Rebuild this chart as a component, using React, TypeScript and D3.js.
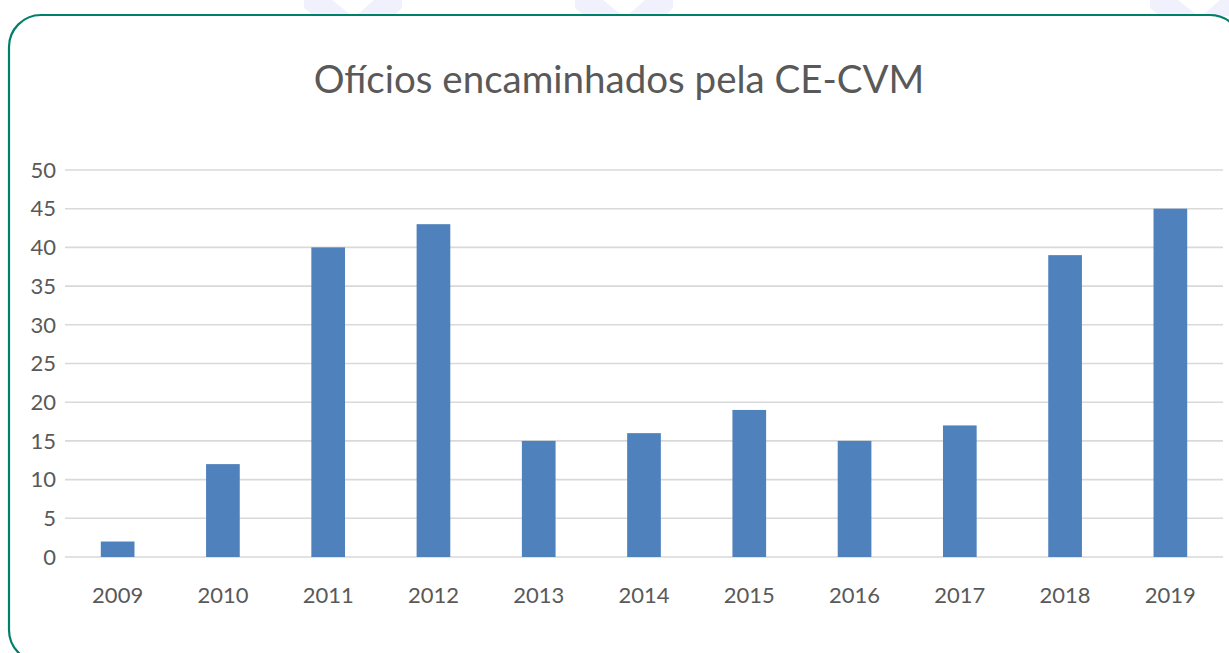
import React from "react";
import * as d3 from "d3";

const years = ["2009", "2010", "2011", "2012", "2013", "2014", "2015", "2016", "2017", "2018", "2019"];
const values = [2, 12, 40, 43, 15, 16, 19, 15, 17, 39, 45];
const yTicks = [0, 5, 10, 15, 20, 25, 30, 35, 40, 45, 50];
const title = "Ofícios encaminhados pela CE-CVM";

const W = 1229;
const H = 653;
const left = 65;
const right = 1223;
const top = 170;
const bottom = 557;

export default function App() {
  const x = d3.scaleBand<string>().domain(years).range([left, right]).paddingInner(0.68).paddingOuter(0.34);
  const y = d3.scaleLinear().domain([0, 50]).range([bottom, top]);
  const font = "Lato, 'Open Sans', sans-serif";
  const wm = "#f1f1fd";
  return (
    <svg width={W} height={H} style={{ position: "absolute", left: 0, top: 0, background: "#fff" }}>
      {[304, 575, 1150].map((sx, i) => (
        <g key={i} fill={wm}>
          <polygon points={`${sx},0 ${sx + 28},0 ${sx + 48},16 ${sx + 10},16 ${sx},8`} />
          <polygon points={`${sx + 98},0 ${sx + 70},0 ${sx + 52},16 ${sx + 90},16 ${sx + 98},8`} />
        </g>
      ))}
      <rect x={9} y={15} width={1233} height={647} rx={32} ry={32} fill="#fff" stroke="#00806a" strokeWidth={2.2} />
      <text x={619} y={93} textAnchor="middle" fontFamily={font} fontSize={38.5} fill="#595959">
        {title}
      </text>
      {yTicks.map((t) => (
        <g key={t}>
          <line x1={left} x2={right} y1={y(t)} y2={y(t)} stroke="#d9d9d9" strokeWidth={1.6} />
          <text x={56} y={y(t)} dy="0.35em" textAnchor="end" fontFamily={font} fontSize={22} fill="#595959">
            {t}
          </text>
        </g>
      ))}
      {years.map((yr, i) => (
        <rect key={yr} x={x(yr)} y={y(values[i])} width={x.bandwidth()} height={y(0) - y(values[i])} fill="#4f81bd" />
      ))}
      {years.map((yr) => (
        <text key={yr} x={(x(yr) as number) + x.bandwidth() / 2} y={603} textAnchor="middle" fontFamily={font} fontSize={22} fill="#595959">
          {yr}
        </text>
      ))}
    </svg>
  );
}
